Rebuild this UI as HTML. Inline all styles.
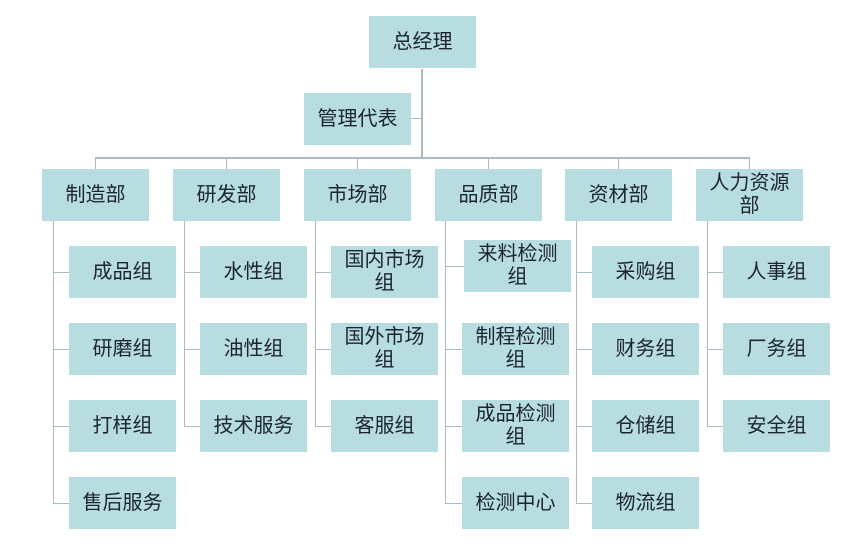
<!DOCTYPE html>
<html><head><meta charset="utf-8"><style>
body{margin:0;width:852px;height:554px;background:#fff;position:relative;overflow:hidden;font-family:"Liberation Sans","Noto Sans CJK SC",sans-serif}
.b{position:absolute;width:107px;height:52px;background:#b8dde1;color:#1b2430;font-size:20px;line-height:23px;display:flex;align-items:center;justify-content:center;text-align:center;box-sizing:border-box;padding:0 4px}
.l{position:absolute;background:#a9bcc4}
</style></head><body>
<div class="l" style="left:421px;top:69px;width:2px;height:90px"></div>
<div class="l" style="left:411px;top:118px;width:11px;height:1px"></div>
<div class="l" style="left:95px;top:157px;width:655px;height:2px"></div>
<div class="l" style="left:95px;top:158px;width:1px;height:11px"></div>
<div class="l" style="left:226px;top:158px;width:1px;height:11px"></div>
<div class="l" style="left:357px;top:158px;width:1px;height:11px"></div>
<div class="l" style="left:488px;top:158px;width:1px;height:11px"></div>
<div class="l" style="left:618px;top:158px;width:1px;height:11px"></div>
<div class="l" style="left:749px;top:158px;width:1px;height:11px"></div>

<div class="b" style="left:369px;top:16px">总经理</div>
<div class="b" style="left:304px;top:93px">管理代表</div>

<div class="b" style="left:42px;top:169px">制造部</div>
<div class="b" style="left:173px;top:169px">研发部</div>
<div class="b" style="left:304px;top:169px">市场部</div>
<div class="b" style="left:435px;top:169px">品质部</div>
<div class="b" style="left:565px;top:169px">资材部</div>
<div class="b" style="left:696px;top:169px">人力资源部</div>

<!-- 制造部 -->
<div class="l" style="left:53px;top:221px;width:1px;height:282px"></div>
<div class="l" style="left:53px;top:272px;width:16px;height:1px"></div>
<div class="l" style="left:53px;top:349px;width:16px;height:1px"></div>
<div class="l" style="left:53px;top:426px;width:16px;height:1px"></div>
<div class="l" style="left:53px;top:503px;width:16px;height:1px"></div>
<div class="b" style="left:69px;top:246px">成品组</div>
<div class="b" style="left:69px;top:323px">研磨组</div>
<div class="b" style="left:69px;top:400px">打样组</div>
<div class="b" style="left:69px;top:477px">售后服务</div>

<!-- 研发部 -->
<div class="l" style="left:184px;top:221px;width:1px;height:205px"></div>
<div class="l" style="left:184px;top:272px;width:16px;height:1px"></div>
<div class="l" style="left:184px;top:349px;width:16px;height:1px"></div>
<div class="l" style="left:184px;top:426px;width:16px;height:1px"></div>
<div class="b" style="left:200px;top:246px">水性组</div>
<div class="b" style="left:200px;top:323px">油性组</div>
<div class="b" style="left:200px;top:400px">技术服务</div>

<!-- 市场部 -->
<div class="l" style="left:315px;top:221px;width:1px;height:205px"></div>
<div class="l" style="left:315px;top:272px;width:16px;height:1px"></div>
<div class="l" style="left:315px;top:349px;width:16px;height:1px"></div>
<div class="l" style="left:315px;top:426px;width:16px;height:1px"></div>
<div class="b" style="left:331px;top:246px">国内市场组</div>
<div class="b" style="left:331px;top:323px">国外市场组</div>
<div class="b" style="left:331px;top:400px">客服组</div>

<!-- 品质部 -->
<div class="l" style="left:445px;top:221px;width:1px;height:282px"></div>
<div class="l" style="left:445px;top:266px;width:19px;height:1px"></div>
<div class="l" style="left:445px;top:349px;width:17px;height:1px"></div>
<div class="l" style="left:445px;top:426px;width:17px;height:1px"></div>
<div class="l" style="left:445px;top:503px;width:17px;height:1px"></div>
<div class="b" style="left:464px;top:240px">来料检测组</div>
<div class="b" style="left:462px;top:323px">制程检测组</div>
<div class="b" style="left:462px;top:400px">成品检测组</div>
<div class="b" style="left:462px;top:477px">检测中心</div>

<!-- 资材部 -->
<div class="l" style="left:576px;top:221px;width:1px;height:282px"></div>
<div class="l" style="left:576px;top:272px;width:16px;height:1px"></div>
<div class="l" style="left:576px;top:349px;width:16px;height:1px"></div>
<div class="l" style="left:576px;top:426px;width:16px;height:1px"></div>
<div class="l" style="left:576px;top:503px;width:16px;height:1px"></div>
<div class="b" style="left:592px;top:246px">采购组</div>
<div class="b" style="left:592px;top:323px">财务组</div>
<div class="b" style="left:592px;top:400px">仓储组</div>
<div class="b" style="left:592px;top:477px">物流组</div>

<!-- 人力资源部 -->
<div class="l" style="left:707px;top:221px;width:1px;height:205px"></div>
<div class="l" style="left:707px;top:272px;width:16px;height:1px"></div>
<div class="l" style="left:707px;top:349px;width:16px;height:1px"></div>
<div class="l" style="left:707px;top:426px;width:16px;height:1px"></div>
<div class="b" style="left:723px;top:246px">人事组</div>
<div class="b" style="left:723px;top:323px">厂务组</div>
<div class="b" style="left:723px;top:400px">安全组</div>
</body></html>
